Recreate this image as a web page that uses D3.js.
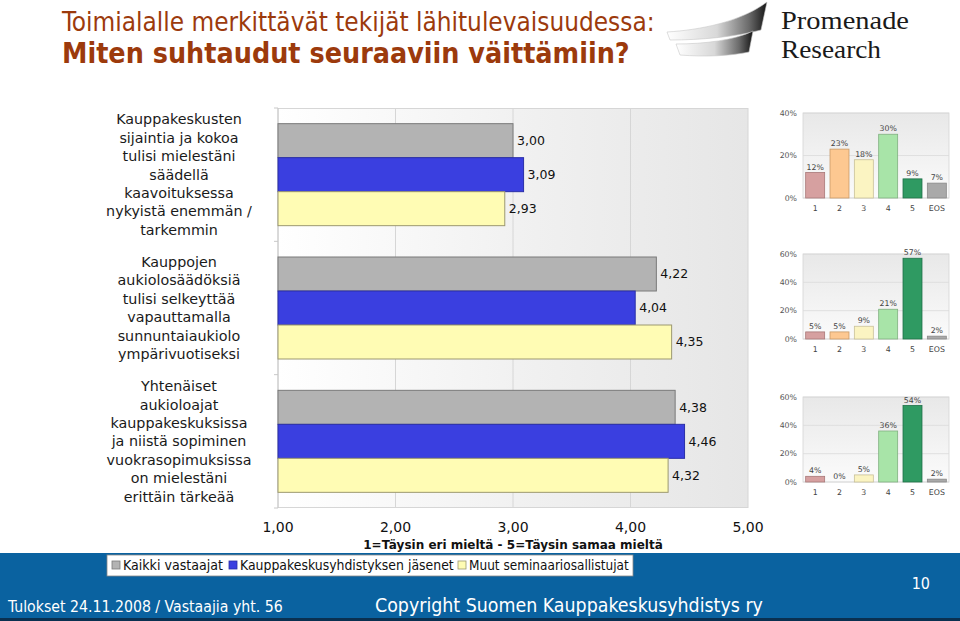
<!DOCTYPE html>
<html><head><meta charset="utf-8">
<script src="https://cdnjs.cloudflare.com/ajax/libs/d3/7.8.5/d3.min.js"></script>
<style>
html,body{margin:0;padding:0;background:#fff;}
svg{display:block;}
</style></head>
<body>
<svg id="chart" width="960" height="621"></svg>
<script>
// ---------- DATA ----------
const titleLine1 = "Toimialalle merkittävät tekijät lähitulevaisuudessa:";
const titleLine2 = "Miten suhtaudut seuraaviin väittämiin?";
const categoryLines = [
  ["Kauppakeskusten","sijaintia ja kokoa","tulisi mielestäni","säädellä","kaavoituksessa","nykyistä enemmän /","tarkemmin"],
  ["Kauppojen","aukiolosäädöksiä","tulisi selkeyttää","vapauttamalla","sunnuntaiaukiolo","ympärivuotiseksi"],
  ["Yhtenäiset","aukioloajat","kauppakeskuksissa","ja niistä sopiminen","vuokrasopimuksissa","on mielestäni","erittäin tärkeää"]
];
const seriesNames = ["Kaikki vastaajat","Kauppakeskusyhdistyksen jäsenet","Muut seminaariosallistujat"];
const allRespondents = [3.00, 4.22, 4.38];
const members = [3.09, 4.04, 4.46];
const others = [2.93, 4.35, 4.32];
const xTicks = [1, 2, 3, 4, 5];
const xAxisTitle = "1=Täysin eri mieltä - 5=Täysin samaa mieltä";
const distCategories = ["1","2","3","4","5","EOS"];
const dist1 = [12, 23, 18, 30, 9, 7];
const dist2 = [5, 5, 9, 21, 57, 2];
const dist3 = [4, 0, 5, 36, 54, 2];
const distMax = [40, 60, 60];
const distTicks = [[0,20,40],[0,20,40,60],[0,20,40,60]];
const footerLeft = "Tulokset 24.11.2008 / Vastaajia yht. 56";
const footerCenter = "Copyright Suomen Kauppakeskusyhdistys ry";
const pageNumber = "10";

// ---------- STYLE ----------
const seriesColors = ["#b3b3b3","#3a3fe0","#fffcb4"];
const seriesStroke = ["#7a7a7a","#2a2fa8","#9c9870"];
const distColors = ["#d6a0a0","#fdc891","#fbf4c2","#a8e4a8","#2f9a62","#a9a9a9"];
const distStroke = ["#a87878","#c89a68","#c8c098","#80b080","#1f7048","#888888"];
const brown = "#9c3a0c";
const footerBlue = "#0a62a0";

const svg = d3.select("#chart");
const defs = svg.append("defs");

function fit(sel, width){
  const w = sel.node().getComputedTextLength();
  const fs = parseFloat(sel.attr("font-size"));
  sel.attr("font-size", fs * width / w);
  return sel;
}

// ---------- TITLE ----------
fit(svg.append("text").attr("x",62).attr("y",31).attr("font-family","DejaVu Sans Condensed, DejaVu Sans, sans-serif")
  .attr("font-size",24).attr("fill",brown).text(titleLine1), 593);
fit(svg.append("text").attr("x",62).attr("y",63).attr("font-family","DejaVu Sans Condensed, DejaVu Sans, sans-serif")
  .attr("font-size",28).attr("font-weight","bold").attr("fill",brown).text(titleLine2), 568);

// ---------- LOGO ----------
const lg = defs.append("linearGradient").attr("id","logoGrad").attr("x1","0").attr("x2","1").attr("y1","0").attr("y2","0");
lg.append("stop").attr("offset","0").attr("stop-color","#ffffff");
lg.append("stop").attr("offset","0.5").attr("stop-color","#d8d8d8");
lg.append("stop").attr("offset","0.82").attr("stop-color","#6a6a6a");
lg.append("stop").attr("offset","1").attr("stop-color","#151515");
svg.append("path").attr("d","M667,32 C700,30 740,22 767,2 L761,30 C735,37 700,40 670,40 Z")
  .attr("fill","url(#logoGrad)").attr("stroke","#c8c8c8").attr("stroke-width",0.6);
svg.append("path").attr("d","M676,44 C705,44 735,40 753,31 L749,52 C730,56 705,57 680,55 Z")
  .attr("fill","url(#logoGrad)").attr("stroke","#c8c8c8").attr("stroke-width",0.6);
svg.append("text").attr("x",781).attr("y",29).attr("font-family","Liberation Serif, serif").attr("font-size",25)
  .attr("textLength",128).attr("lengthAdjust","spacingAndGlyphs").attr("fill","#1a1a1a").text("Promenade");
svg.append("text").attr("x",781).attr("y",58).attr("font-family","Liberation Serif, serif").attr("font-size",25)
  .attr("textLength",100).attr("lengthAdjust","spacingAndGlyphs").attr("fill","#1a1a1a").text("Research");

// ---------- MAIN CHART ----------
const plot = {x0:278, x1:748, y0:108, y1:508};
const x = d3.scaleLinear().domain([1,5]).range([plot.x0, plot.x1]);
const y = d3.scaleBand().domain(d3.range(categoryLines.length)).range([plot.y0, plot.y1])
  .paddingInner(0.235).paddingOuter(0.1175);
const ys = d3.scaleBand().domain(d3.range(seriesNames.length)).range([0, y.bandwidth()]);
const seriesData = [allRespondents, members, others];

const bg = defs.append("linearGradient").attr("id","plotGrad").attr("x1","0").attr("x2","1").attr("y1","0").attr("y2","0");
bg.append("stop").attr("offset","0").attr("stop-color","#ffffff");
bg.append("stop").attr("offset","0.55").attr("stop-color","#f0f0f0");
bg.append("stop").attr("offset","1").attr("stop-color","#e6e6e6");
svg.append("rect").attr("x",plot.x0).attr("y",plot.y0).attr("width",plot.x1-plot.x0).attr("height",plot.y1-plot.y0)
  .attr("fill","url(#plotGrad)");

svg.append("g").selectAll("line").data(xTicks).join("line")
  .attr("x1",d=>x(d)).attr("x2",d=>x(d)).attr("y1",plot.y0).attr("y2",plot.y1)
  .attr("stroke","#d6d6d6").attr("stroke-width",1);
svg.append("line").attr("x1",plot.x0).attr("x2",plot.x1).attr("y1",plot.y0+0.5).attr("y2",plot.y0+0.5).attr("stroke","#d6d6d6");
svg.append("line").attr("x1",plot.x0).attr("x2",plot.x1).attr("y1",plot.y1-0.5).attr("y2",plot.y1-0.5).attr("stroke","#d6d6d6");

const boundaries = d3.range(categoryLines.length+1).map(i => plot.y0 + i*(plot.y1-plot.y0)/categoryLines.length);
svg.append("line").attr("x1",plot.x0).attr("x2",plot.x0).attr("y1",plot.y0).attr("y2",plot.y1).attr("stroke","#c8c8c8");
svg.append("g").selectAll("line").data(boundaries).join("line")
  .attr("x1",plot.x0-4).attr("x2",plot.x0).attr("y1",d=>d).attr("y2",d=>d).attr("stroke","#c8c8c8");

const fmt = v => d3.format(".2f")(v).replace(".", ",");
seriesData.forEach((vals, si) => {
  const g = svg.append("g");
  g.selectAll("rect").data(vals).join("rect")
    .attr("x", x(1)).attr("y", (d,i)=> y(i)+ys(si))
    .attr("width", d => x(d)-x(1)).attr("height", ys.bandwidth())
    .attr("fill", seriesColors[si]).attr("stroke", seriesStroke[si]).attr("stroke-width",1);
  g.selectAll("text").data(vals).join("text")
    .attr("x", d => x(d)+4).attr("y", (d,i)=> y(i)+ys(si)+ys.bandwidth()/2)
    .attr("dy","0.35em").attr("font-family","DejaVu Sans, Verdana, sans-serif").attr("font-size",12.5)
    .attr("fill","#111").text(fmt);
});

// category labels
categoryLines.forEach((lines, i) => {
  const cy = y(i) + y.bandwidth()/2;
  const lh = 18.4;
  const t = svg.append("text").attr("text-anchor","middle").attr("font-family","DejaVu Sans, Verdana, sans-serif")
    .attr("font-size",14.3).attr("fill","#1a1a1a");
  lines.forEach((ln, k) => {
    t.append("tspan").attr("x",179).attr("y", cy + (k-(lines.length-1)/2)*lh).attr("dy","0.35em").text(ln);
  });
});

// x axis labels
svg.append("g").selectAll("text").data(xTicks).join("text")
  .attr("x", d => x(d)).attr("y", 527).attr("dy","0.35em").attr("text-anchor","middle")
  .attr("font-family","DejaVu Sans, Verdana, sans-serif").attr("font-size",14).attr("fill","#111")
  .text(fmt);
svg.append("text").attr("x",(plot.x0+plot.x1)/2).attr("y",545).attr("dy","0.35em").attr("text-anchor","middle")
  .attr("font-family","DejaVu Sans, Verdana, sans-serif").attr("font-size",12).attr("font-weight","bold")
  .attr("fill","#111").text(xAxisTitle);

// ---------- MINI DISTRIBUTION CHARTS ----------
const miniBoxes = [{y0:113,y1:198},{y0:254,y1:339},{y0:397,y1:482}];
const distData = [dist1, dist2, dist3];
const mg = defs.append("linearGradient").attr("id","miniGrad").attr("x1","0").attr("x2","0").attr("y1","0").attr("y2","1");
mg.append("stop").attr("offset","0").attr("stop-color","#e8e8e8");
mg.append("stop").attr("offset","1").attr("stop-color","#fbfbfb");
distData.forEach((vals, ci) => {
  const box = miniBoxes[ci];
  const mx = d3.scaleBand().domain(distCategories).range([803, 949]).paddingInner(0.22).paddingOuter(0.11);
  const my = d3.scaleLinear().domain([0, distMax[ci]]).range([box.y1, box.y0]);
  const g = svg.append("g");
  g.append("rect").attr("x",803).attr("y",box.y0).attr("width",146).attr("height",box.y1-box.y0)
    .attr("fill","url(#miniGrad)").attr("stroke","#d4d4d4").attr("stroke-width",0.8);
  g.selectAll("line.grid").data(distTicks[ci]).join("line").attr("class","grid")
    .attr("x1",803).attr("x2",949).attr("y1",d=>my(d)).attr("y2",d=>my(d)).attr("stroke","#dadada").attr("stroke-width",0.8);
  g.selectAll("text.yt").data(distTicks[ci]).join("text").attr("class","yt")
    .attr("x",797).attr("y",d=>my(d)).attr("dy","0.35em").attr("text-anchor","end")
    .attr("font-family","DejaVu Sans, sans-serif").attr("font-size",7.8).attr("fill","#555").text(d=>d+"%");
  g.selectAll("rect.bar").data(vals).join("rect").attr("class","bar")
    .attr("x",(d,i)=>mx(distCategories[i])).attr("y",d=>my(d))
    .attr("width",mx.bandwidth()).attr("height",d=>my(0)-my(d))
    .attr("fill",(d,i)=>distColors[i]).attr("stroke",(d,i)=>d>0?distStroke[i]:"none").attr("stroke-width",0.8);
  g.selectAll("text.val").data(vals).join("text").attr("class","val")
    .attr("x",(d,i)=>mx(distCategories[i])+mx.bandwidth()/2).attr("y",d=>my(d)-3)
    .attr("text-anchor","middle").attr("font-family","DejaVu Sans, sans-serif").attr("font-size",7.8)
    .attr("fill","#444").text(d=>d+"%");
  g.selectAll("text.xt").data(distCategories).join("text").attr("class","xt")
    .attr("x",d=>mx(d)+mx.bandwidth()/2).attr("y",box.y1+10).attr("dy","0.35em").attr("text-anchor","middle")
    .attr("font-family","DejaVu Sans, sans-serif").attr("font-size",7.8).attr("fill","#444").text(d=>d);
});

// ---------- FOOTER ----------
svg.append("rect").attr("x",0).attr("y",553).attr("width",960).attr("height",68).attr("fill",footerBlue);
svg.append("rect").attr("x",0).attr("y",618).attr("width",960).attr("height",3).attr("fill","#0a3050");
svg.append("rect").attr("x",107).attr("y",555).attr("width",526).attr("height",21)
  .attr("fill","#fff").attr("stroke","#888").attr("stroke-width",0.8);
const legendX = [112, 229, 458];
const legendW = [100, 214, 160];
seriesNames.forEach((name, i) => {
  svg.append("rect").attr("x",legendX[i]).attr("y",561).attr("width",8).attr("height",8)
    .attr("fill",seriesColors[i]).attr("stroke",seriesStroke[i]).attr("stroke-width",0.8);
  fit(svg.append("text").attr("x",legendX[i]+11).attr("y",570).attr("font-family","DejaVu Sans Condensed, DejaVu Sans, sans-serif")
    .attr("font-size",13).attr("fill","#111").text(name), legendW[i]);
});
fit(svg.append("text").attr("x",8).attr("y",612).attr("font-family","Liberation Sans Narrow, DejaVu Sans Condensed, sans-serif")
  .attr("font-size",17).attr("fill","#fff").text(footerLeft), 275);
fit(svg.append("text").attr("x",375).attr("y",612).attr("font-family","Liberation Sans Narrow, DejaVu Sans Condensed, sans-serif")
  .attr("font-size",19).attr("fill","#fff").text(footerCenter), 388);
svg.append("text").attr("x",930).attr("y",589).attr("text-anchor","end").attr("font-family","Liberation Sans Narrow, DejaVu Sans Condensed, sans-serif")
  .attr("font-size",16).attr("fill","#fff").text(pageNumber);
</script>
</body></html>
